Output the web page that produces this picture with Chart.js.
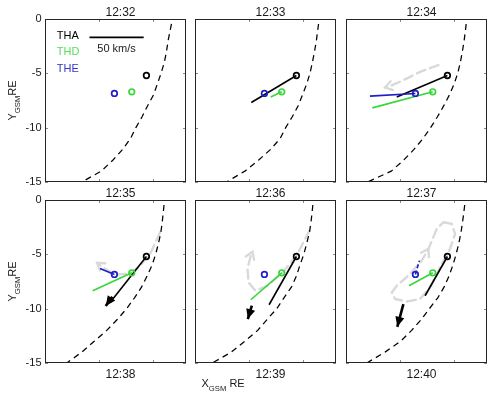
<!DOCTYPE html>
<html><head><meta charset="utf-8">
<script src="https://cdn.jsdelivr.net/npm/chart.js@4.4.1/dist/chart.umd.min.js"></script>
<style>html,body{margin:0;padding:0;background:#fff}#wrap{position:relative;width:496px;height:397px;overflow:hidden;background:#fff}canvas{position:absolute;left:0;top:0}</style>
</head><body><div id="wrap"></div>
<script>
// ---------------- data ----------------
const panelTimes = ['12:32','12:33','12:34','12:35','12:36','12:37'];
const lowerTimes = ['','','','12:38','12:39','12:40'];
const yTicks = [0,-5,-10,-15];
const xTicks = [5,10];
const probeNames = ['THA','THD','THE'];
const thaPos = [9.35,-5.2];
const thdPos = [8.0,-6.7];
const thePos = [6.4,-6.85];
const thaVelEnd = [null,[5.19,-7.68],[4.68,-7.17],[6.0,-9.43],[6.83,-9.64],[7.29,-8.81]];
const thdVelEnd = [null,[6.98,-7.17],[2.43,-8.18],[4.40,-8.35],[5.14,-9.18],[5.81,-7.89]];
const theVelEnd = [null,null,[2.21,-7.10],[5.07,-6.31],null,[6.76,-5.58]];
const bulkArrowStart = [null,null,null,[6.2,-8.9],[5.24,-9.73],[5.29,-9.58]];
const bulkArrowTip   = [null,null,null,[5.6,-9.75],[4.87,-10.96],[4.73,-11.67]];
const greyPaths = [
  null,
  null,
  [[8.52,-4.24],[6.83,-4.86],[5.29,-5.63],[4.06,-6.18],[3.6,-6.3]],
  [[10.61,-2.97],[9.69,-4.96],[8.61,-6.2],[7.66,-6.78],[6.46,-6.87],[5.54,-6.32],[4.8,-5.77]],
  [[10.56,-2.81],[9.36,-5.12],[8.07,-6.69],[6.69,-7.89],[5.58,-8.35],[4.94,-7.61],[4.84,-6.32],[5.12,-5.21],[5.3,-4.75]],
  [[8.98,-2.05],[9.75,-2.2],[10.06,-3.12],[9.59,-4.5],[8.67,-6.2],[7.75,-8.04],[6.83,-9.11],[5.6,-9.34],[4.52,-9.11],[4.22,-8.51],[4.68,-7.89],[5.9,-6.81],[6.98,-5.58],[7.6,-4.5],[8.37,-2.66],[8.98,-2.05]]
];
const greyArrowAt = [null,null,4,6,8,13];
const boundaryY = [0.5,0,-1,-2,-3,-4,-5,-6,-7,-8,-9,-10,-11,-12,-13,-14,-15,-15.5];
const boundaryX1 = [11.8,11.75,11.55,11.35,11.2,11.0,10.7,10.35,10.0,9.45,8.95,8.38,7.88,7.16,6.25,5.18,3.4,2.6];
const boundaryX2 = [11.5,11.45,11.32,11.19,11.02,10.82,10.6,10.29,9.9,9.5,8.97,8.36,7.85,6.97,5.85,4.6,2.9,2.1];
const boundaryX3 = [11.18,11.13,11.02,10.89,10.73,10.54,10.3,9.96,9.53,9.0,8.43,7.8,7.1,6.27,5.3,4.17,2.0,1.0];
const boundaryX4 = [11.07,11.02,10.92,10.81,10.68,10.46,10.2,9.87,9.41,8.91,8.25,7.52,6.66,5.69,4.54,3.39,2.0,1.2];
const boundaryX5 = [10.95,10.91,10.81,10.7,10.55,10.3,10.03,9.67,9.35,8.9,8.2,7.54,6.64,5.78,4.59,3.35,1.6,0.8];
const boundaryX6 = [11.05,11.0,10.88,10.75,10.6,10.4,10.15,9.85,9.5,9.05,8.46,7.69,6.94,6.05,5.04,3.6,1.91,1.1];
const scaleBarX = [4.1,9.1];
const scaleBarY = [-1.7,-1.7];
const scaleBarLabel = '50 km/s';

// ---------------- layout / style ----------------
const W = 496, H = 397;
const PW = 141, PH = 163;
const panelLeft = [45,195,346,45,195,346];
const panelTop  = [19,19,19,200,200,200];
const boundaryX = [boundaryX1,boundaryX2,boundaryX3,boundaryX4,boundaryX5,boundaryX6];
const probePos = [thaPos,thdPos,thePos];
const probeVel = [thaVelEnd,thdVelEnd,theVelEnd];
const probeColor = ['#000000','#38d638','#1e1ec8'];
const probeTextColor = ['#000000','#5ada5a','#3535c8'];
const theDash = [[],[],[],[],[],[4,2.5]];
const GREY = '#d9d9d9';
const FONT = '"Liberation Sans", Arial, Helvetica, sans-serif';

const pts = arr => arr.map(p => ({x:p[0], y:p[1]}));

function headAt(ctx, tip, from, len, hw, filled) {
  const a = Math.atan2(tip.y-from.y, tip.x-from.x);
  const bx = tip.x - len*Math.cos(a), by = tip.y - len*Math.sin(a);
  const nx = -Math.sin(a)*hw, ny = Math.cos(a)*hw;
  ctx.beginPath();
  ctx.moveTo(bx+nx, by+ny);
  ctx.lineTo(tip.x, tip.y);
  ctx.lineTo(bx-nx, by-ny);
  if (filled) { ctx.closePath(); ctx.fill(); } else { ctx.stroke(); }
}

function subLabel(ctx, x, y, a, b, c, size) {
  ctx.save();
  ctx.textAlign = 'left'; ctx.textBaseline = 'alphabetic';
  ctx.font = size + 'px ' + FONT;
  const wa = ctx.measureText(a).width;
  ctx.font = (size*0.7) + 'px ' + FONT;
  const wb = ctx.measureText(b).width;
  ctx.font = size + 'px ' + FONT;
  const wc = ctx.measureText(c).width;
  return {wa, wb, wc, draw(){
    ctx.font = size + 'px ' + FONT; ctx.fillText(a, x, y);
    ctx.font = (size*0.7) + 'px ' + FONT; ctx.fillText(b, x+wa, y+4);
    ctx.font = size + 'px ' + FONT; ctx.fillText(c, x+wa+wb, y);
    ctx.restore();
  }};
}

const deco = {
  id: 'deco',
  beforeDatasetsDraw(chart, args, opts) {
    const i = opts.idx, ctx = chart.ctx, sx = chart.scales.x, sy = chart.scales.y;
    const P = p => ({x: sx.getPixelForValue(p[0]), y: sy.getPixelForValue(p[1])});
    const ca = chart.chartArea;
    if (greyPaths[i]) {
      const k = greyArrowAt[i];
      ctx.save();
      ctx.beginPath(); ctx.rect(ca.left, ca.top, ca.right-ca.left, ca.bottom-ca.top); ctx.clip();
      ctx.strokeStyle = GREY; ctx.lineWidth = 2.3; ctx.lineCap = 'round';
      headAt(ctx, P(greyPaths[i][k]), P(greyPaths[i][k-1]), 7, 4.5, false);
      ctx.restore();
    }
  },
  afterDatasetsDraw(chart, args, opts) {
    const i = opts.idx, ctx = chart.ctx, sx = chart.scales.x, sy = chart.scales.y;
    const P = p => ({x: sx.getPixelForValue(p[0]), y: sy.getPixelForValue(p[1])});
    if (bulkArrowTip[i]) {
      ctx.save(); ctx.fillStyle = '#000';
      headAt(ctx, P(bulkArrowTip[i]), P(bulkArrowStart[i]), 10, 4.6, true);
      ctx.restore();
    }
  },
  afterDraw(chart, args, opts) {
    const i = opts.idx, ctx = chart.ctx, sx = chart.scales.x, sy = chart.scales.y;
    const ca = chart.chartArea;
    ctx.save();
    // inward ticks
    ctx.strokeStyle = '#8a8a8a'; ctx.lineWidth = 1;
    ctx.beginPath();
    xTicks.forEach(v => {
      const x = Math.round(sx.getPixelForValue(v)) + 0.5;
      ctx.moveTo(x, ca.bottom); ctx.lineTo(x, ca.bottom-3);
      ctx.moveTo(x, ca.top); ctx.lineTo(x, ca.top+3);
    });
    yTicks.forEach(v => {
      const y = Math.round(sy.getPixelForValue(v)) + 0.5;
      ctx.moveTo(ca.left, y); ctx.lineTo(ca.left+3, y);
      ctx.moveTo(ca.right, y); ctx.lineTo(ca.right-3, y);
    });
    ctx.stroke();
    // box
    ctx.strokeStyle = '#262626'; ctx.lineWidth = 1;
    ctx.strokeRect(ca.left+0.5, ca.top+0.5, ca.right-ca.left-1, ca.bottom-ca.top-1);
    // titles
    const cx = (ca.left+ca.right)/2 + 5;
    ctx.fillStyle = '#1a1a1a';
    ctx.font = '12px ' + FONT; ctx.textAlign = 'center'; ctx.textBaseline = 'middle';
    ctx.fillText(panelTimes[i], cx, ca.top - 6.5);
    if (lowerTimes[i]) ctx.fillText(lowerTimes[i], cx, ca.bottom + 12);
    // y tick labels + y title (left column)
    if (i % 3 === 0) {
      ctx.font = '11px ' + FONT; ctx.textAlign = 'right'; ctx.textBaseline = 'middle';
      yTicks.forEach(v => ctx.fillText(String(v), ca.left - 3.5, sy.getPixelForValue(v)));
      const mid = (ca.top + ca.bottom)/2;
      ctx.save();
      ctx.translate(15.5, mid);
      ctx.rotate(-Math.PI/2);
      const L = subLabel(ctx, 0, 0, 'Y', 'GSM', 'RE', 11);
      const tot = L.wa + L.wb + L.wc;
      ctx.translate(-tot/2, 0);
      L.draw();
      ctx.restore();
    }
    // x title (bottom middle)
    if (i === 4) {
      const L = subLabel(ctx, 201.5, 387, 'X', 'GSM', ' RE', 11);
      L.draw();
    }
    // legend (first panel)
    if (i === 0) {
      ctx.font = '11px ' + FONT; ctx.textAlign = 'left'; ctx.textBaseline = 'middle';
      const lx = sx.getPixelForValue(1.08);
      [-1.57,-3.04,-4.61].forEach((yy,k) => {
        ctx.fillStyle = probeTextColor[k];
        ctx.fillText(probeNames[k], lx, sy.getPixelForValue(yy));
      });
      ctx.fillStyle = '#1a1a1a'; ctx.textAlign = 'center';
      ctx.fillText(scaleBarLabel, sx.getPixelForValue((scaleBarX[0]+scaleBarX[1])/2), sy.getPixelForValue(-2.72));
    }
    ctx.restore();
  }
};

function datasetsFor(i) {
  const ds = [];
  if (greyPaths[i]) ds.push({data: pts(greyPaths[i]), showLine: true, borderColor: GREY, borderWidth: 2.4,
    borderDash: [9,5], borderCapStyle: 'round', pointRadius: 0, order: 10});
  ds.push({data: boundaryX[i].map((x,k) => ({x, y: boundaryY[k]})), showLine: true, borderColor: '#000',
    borderWidth: 1.25, borderDash: [6,4.5], pointRadius: 0, order: 9});
  probeNames.forEach((n,k) => {
    const end = probeVel[k][i];
    if (end) ds.push({data: pts([probePos[k], end]), showLine: true, borderColor: probeColor[k],
      borderWidth: 1.6, borderDash: k === 2 ? theDash[i] : [], pointRadius: 0, order: 6 - k});
  });
  if (bulkArrowTip[i]) ds.push({data: pts([bulkArrowStart[i], bulkArrowTip[i]]), showLine: true,
    borderColor: '#000', borderWidth: 2.6, pointRadius: 0, order: 2});
  probeNames.forEach((n,k) => {
    ds.push({data: pts([probePos[k]]), showLine: false, pointRadius: 2.8, pointBorderWidth: 1.7,
      pointStyle: 'circle', pointBorderColor: probeColor[k], pointBackgroundColor: 'rgba(255,255,255,0)',
      order: 1});
  });
  if (i === 0) ds.push({data: scaleBarX.map((x,k) => ({x, y: scaleBarY[k]})), showLine: true,
    borderColor: '#000', borderWidth: 1.8, pointRadius: 0, order: 1});
  return ds;
}

const wrap = document.getElementById('wrap');
for (let i = 0; i < 6; i++) {
  const c = document.createElement('canvas');
  c.width = W; c.height = H; c.style.width = W + 'px'; c.style.height = H + 'px';
  wrap.appendChild(c);
  new Chart(c, {
    type: 'scatter',
    data: {datasets: datasetsFor(i)},
    options: {
      responsive: false, animation: false, devicePixelRatio: 1,
      layout: {padding: {left: panelLeft[i], top: panelTop[i], right: W - panelLeft[i] - PW, bottom: H - panelTop[i] - PH}},
      scales: {
        x: {type: 'linear', min: 0, max: 13, display: false},
        y: {type: 'linear', min: -15, max: 0, display: false}
      },
      plugins: {legend: {display: false}, tooltip: {enabled: false}, title: {display: false}, deco: {idx: i}},
      elements: {line: {tension: 0}}
    },
    plugins: [deco]
  });
}
</script></body></html>
